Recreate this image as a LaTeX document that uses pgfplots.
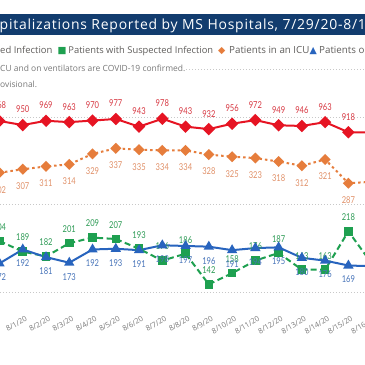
\documentclass[border=0pt]{standalone}
\usepackage{fontspec}
\setmainfont{Open Sans}
\newfontfamily\titlefont[LetterSpace=5.5]{Open Sans}
\newfontfamily\din[FakeStretch=0.8]{Lato}
\newfontfamily\sym{DejaVu Sans}
\usepackage{pgfplots}
\pgfplotsset{compat=1.18}
\usepackage{pgfplotstable}

\definecolor{banner}{RGB}{18,60,110}
\definecolor{cred}{RGB}{230,20,35}
\definecolor{credlab}{RGB}{215,55,65}
\definecolor{corange}{RGB}{230,125,60}
\definecolor{corangelab}{RGB}{225,145,105}
\definecolor{cgreen}{RGB}{30,160,80}
\definecolor{cgreenlab}{RGB}{45,155,85}
\definecolor{cblue}{RGB}{40,100,190}
\definecolor{cbluelab}{RGB}{70,115,185}
\definecolor{gridc}{RGB}{200,200,200}
\definecolor{legtext}{RGB}{96,94,92}
\definecolor{subtext}{RGB}{120,120,120}

% i: 0 = 7/31/20, 1 = 8/1/20, ...
\pgfplotstableread{
i  red icu susp vent
0  968 302 204 172
1  950 307 189 192
2  969 311 182 181
3  963 314 201 173
4  970 329 209 192
5  977 337 207 193
6  943 335 193 191
7  978 334 176 198
8  943 334 186 197
9  932 328 142 196
10 956 325 158 191
11 972 323 176 194
12 949 318 187 195
13 946 312 163 180
14 963 321 163 176
15 918 287 218 169
16 917 289 172 168
}\data

\begin{document}
\begin{tikzpicture}[x=1bp,y=1bp]
\path[use as bounding box] (0,0) rectangle (365,365);
\clip (0,0) rectangle (365,365);
\fill[white] (0,0) rectangle (365,365);
% title banner
\fill[banner] (0,329.5) rectangle (365,350.5);
\node[anchor=base west, inner sep=0, text=white, font=\titlefont\fontsize{14}{15}\selectfont] at (-0.5,335.3) {\llap{COVID-19 Hos}pitalizations Reported by MS Hospitals, 7/29/20-8/16/20};
% legend
\node[anchor=base west, inner sep=0, text=legtext, font=\fontsize{9.5}{10}\selectfont] at (0,311.7) {\llap{Patients with Confirm}ed Infection};
\node[anchor=base west, inner sep=0, text=cgreen, font=\sym\fontsize{9.5}{10}\selectfont] at (57.5,311.7) {■};
\node[anchor=base west, inner sep=0, text=legtext, font=\fontsize{9.4}{10}\selectfont] at (68.3,311.7) {Patients with Suspected Infection};
\node[anchor=base west, inner sep=0, text=corange, font=\sym\fontsize{9.5}{10}\selectfont] at (218,311.7) {◆};
\node[anchor=base west, inner sep=0, text=legtext, font=\fontsize{9.8}{10}\selectfont] at (229,311.7) {Patients in an ICU};
\node[anchor=base west, inner sep=0, text=cblue, font=\sym\fontsize{9.5}{10}\selectfont] at (309.5,311.7) {▲};
\node[anchor=base west, inner sep=0, text=legtext, font=\fontsize{9.8}{10}\selectfont] at (319,311.7) {Patients on Ventilators};
% notes
\node[anchor=base west, inner sep=0, text=subtext, font=\fontsize{8.5}{9}\selectfont] at (0,293.7) {\llap{Note: All patients in an I}CU and on ventilators are COVID-19 confirmed.};
\draw[gridc, line width=0.8bp, dash pattern=on 1bp off 2bp] (186,295.5) -- (365,295.5);
\node[anchor=base west, inner sep=0, text=subtext, font=\fontsize{8.5}{9}\selectfont] at (0,277.5) {\llap{Data from the most recent days are pr}ovisional.};

\begin{axis}[
  at={(-12.13bp,55bp)}, anchor=south west, scale only axis,
  width=395.42bp, height=310bp,
  xmin=-0.5, xmax=16.5, ymin=105.22, ymax=549.6,
  clip=false,
  axis line style={draw=none}, tick style={draw=none},
  xtick={1,...,16},
  xticklabels={8/1/20,8/2/20,8/3/20,8/4/20,8/5/20,8/6/20,8/7/20,8/8/20,8/9/20,8/10/20,8/11/20,8/12/20,8/13/20,8/14/20,8/15/20,8/16/20},
  xticklabel style={rotate=30, anchor=north east, inner sep=0pt, font=\fontsize{7.5}{8}\selectfont, text=subtext, xshift=-1bp, yshift=-6bp},
  ytick={131,256,381}, yticklabels={},
  ymajorgrids, grid style={gridc, line width=0.8bp, dash pattern=on 1bp off 2bp},
  /pgf/number format/assume math mode=true,
]
\addplot[corange, line width=2bp, dash pattern=on 2.5bp off 3bp,
  mark=square*, mark size=2.9bp, mark options={solid, rotate=45, fill=corange},
  point meta=y, nodes near coords,
  every node near coord/.append style={anchor=center, yshift=-17bp, text=corangelab, font=\din\fontsize{9.5}{10}\selectfont}]
  table[x=i, y=icu] {\data};
\addplot[cgreen, line width=2bp, dash pattern=on 6bp off 3.5bp,
  mark=square*, mark size=3.3bp, mark options={solid, fill=cgreen},
  point meta=y, nodes near coords,
  every node near coord/.append style={anchor=center, yshift=14bp, text=cgreenlab, font=\din\fontsize{9.5}{10}\selectfont}]
  table[x=i, y=susp] {\data};
\addplot[cblue, line width=2bp,
  mark=triangle*, mark size=4bp, mark options={solid, fill=cblue},
  point meta=y, nodes near coords,
  every node near coord/.append style={anchor=center, yshift=-14bp, text=cbluelab, font=\din\fontsize{9.5}{10}\selectfont}]
  table[x=i, y=vent] {\data};
\end{axis}

\begin{axis}[
  at={(-12.13bp,55bp)}, anchor=south west, scale only axis,
  width=395.42bp, height=310bp,
  xmin=-0.5, xmax=16.5, ymin=129.55, ymax=1504.88,
  clip=false, hide axis,
  /pgf/number format/assume math mode=true,
]
\addplot[cred, line width=2bp,
  mark=square*, mark size=3.4bp, mark options={solid, rotate=45, fill=cred},
  point meta=y, nodes near coords,
  every node near coord/.append style={anchor=center, yshift=15.5bp, text=credlab, font=\din\fontsize{9.5}{10}\selectfont}]
  table[x=i, y=red] {\data};
\end{axis}
\end{tikzpicture}
\end{document}
